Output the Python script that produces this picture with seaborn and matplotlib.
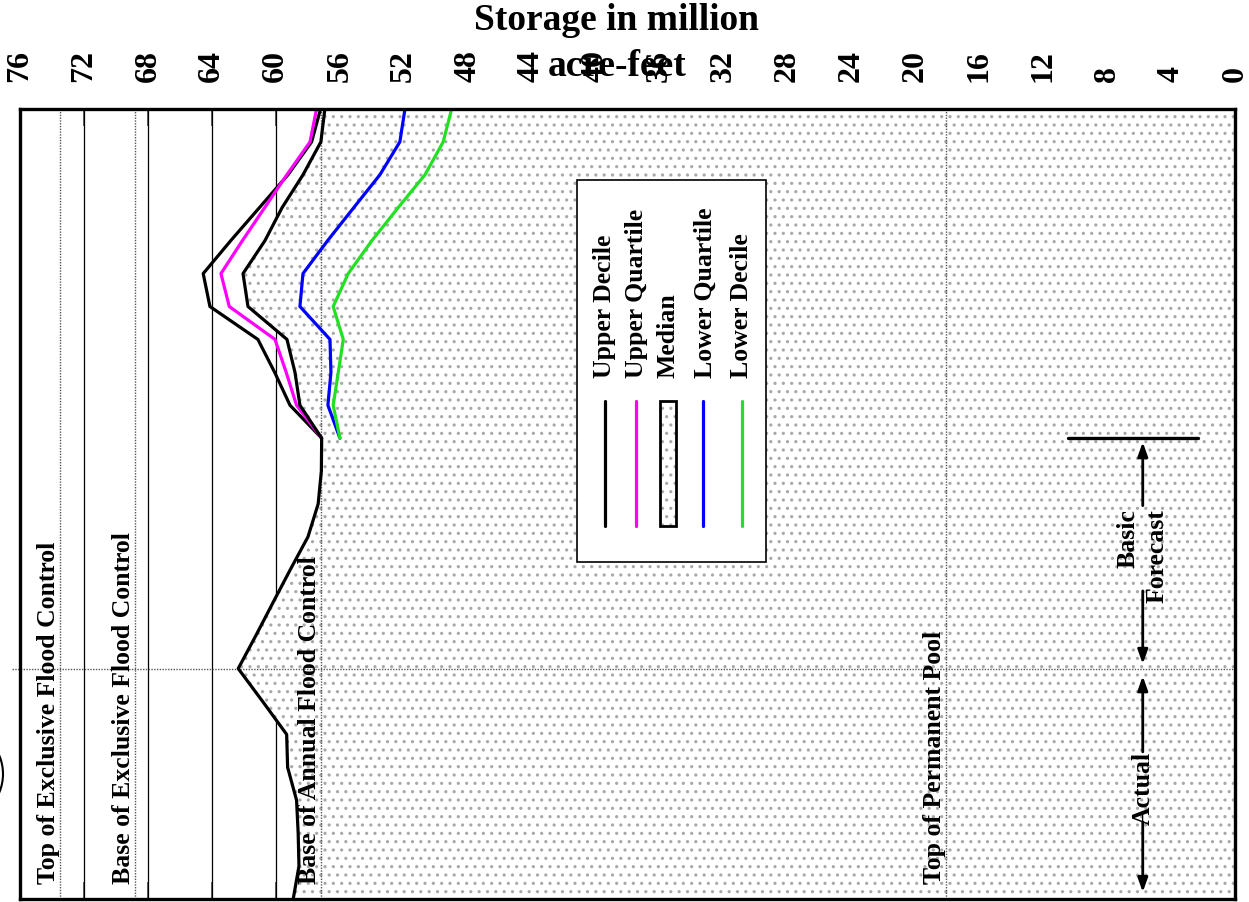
import numpy as np
import pandas as pd
import matplotlib
matplotlib.use("Agg")
import matplotlib.pyplot as plt
import seaborn as sns
from matplotlib.lines import Line2D
from matplotlib.patches import Rectangle, Ellipse

# ---------------- data ----------------
months_all = list(range(0, 25))
median = [58.91, 58.55, 58.60, 58.70, 59.26, 59.32, 60.82, 62.35, 61.25, 60.18,
          59.10, 57.99, 57.35, 57.15, 57.13, 58.49, 58.80, 59.30, 61.74, 62.05,
          60.68, 59.61, 58.30, 57.18, 56.93]
forecast_months = list(range(14, 25))
upper_decile = [57.13, 59.11, 60.07, 61.12, 64.12, 64.54, 62.82, 61.03, 59.24, 57.76, 57.20]
upper_quartile = [57.13, 58.70, 59.35, 60.05, 62.91, 63.43, 62.09, 60.70, 59.31, 57.86, 57.45]
lower_quartile = [55.99, 56.74, 56.55, 56.61, 58.49, 58.30, 56.76, 55.13, 53.49, 52.24, 51.92]
lower_decile = [55.99, 56.41, 56.09, 55.78, 56.41, 55.47, 53.99, 52.35, 50.67, 49.53, 49.00]

series_names = ["Upper Decile", "Upper Quartile", "Median", "Lower Quartile", "Lower Decile"]
series_colors = {"Upper Decile": "black", "Upper Quartile": "#ff00ff",
                 "Median": "black", "Lower Quartile": "#0000ff", "Lower Decile": "#22e022"}

storage_ticks = list(range(0, 77, 4))
level_names = ["Top of Exclusive Flood Control", "Base of Exclusive Flood Control",
               "Base of Annual Flood Control", "Top of Permanent Pool"]
level_values = [73.5, 68.8, 57.2, 18.1]
forecast_start = 7
quantile_start = 14

# ---------------- style ----------------
sns.set_theme(style="white")
plt.rcParams["font.family"] = ["Liberation Serif", "DejaVu Serif"]
plt.rcParams["font.weight"] = "bold"
plt.rcParams["text.color"] = "black"
plt.rcParams["xtick.labelcolor"] = "black"
plt.rcParams["hatch.color"] = "#a8a8a8"
plt.rcParams["hatch.linewidth"] = 1.1

HATCH_COLOR = "#a8a8a8"
W, H = 1249, 903
fig = plt.figure(figsize=(W / 100, H / 100), dpi=100)
fig.patch.set_facecolor("white")
ax = fig.add_axes([20 / W, 3 / H, 1215 / W, 790 / H])
ax.set_facecolor("white")

# grid lines every 4 MAF
for v in storage_ticks:
    ax.axvline(v, color="black", lw=0.9, zorder=1)

# stippled median fill
ax.fill_betweenx(months_all, 0, median, facecolor="white", edgecolor=HATCH_COLOR,
                 hatch="..", linewidth=0, zorder=2)

# level lines (dotted)
for v in level_values:
    ax.axvline(v, color="#555555", lw=1.0, ls=(0, (1, 1)), zorder=3)
ax.plot([76.5, 0], [forecast_start, forecast_start], color="#555555", lw=1.0,
        ls=(0, (1, 1)), zorder=3, clip_on=False)

# quantile lines
rows = []
for name, vals in [("Upper Decile", upper_decile), ("Upper Quartile", upper_quartile),
                   ("Lower Quartile", lower_quartile), ("Lower Decile", lower_decile)]:
    for m, v in zip(forecast_months, vals):
        rows.append({"series": name, "month": m, "storage": v})
df = pd.DataFrame(rows)
sns.lineplot(data=df, x="storage", y="month", hue="series", palette=series_colors,
             orient="y", sort=False, estimator=None, legend=False, lw=2.3, ax=ax, zorder=4)
sns.lineplot(x=median, y=months_all, orient="y", sort=False, estimator=None,
             color="black", lw=2.3, ax=ax, zorder=4)

ax.set_xlim(76, 0)
ax.set_ylim(0, 24)
ax.set_xlabel("")
ax.set_ylabel("")

# ticks
ax.set_xticks(storage_ticks)
ax.set_xticklabels([str(t) for t in storage_ticks], rotation=90, fontsize=23,
                   fontweight="bold", color="black")
ax.xaxis.set_ticks_position("both")
ax.tick_params(axis="x", which="major", direction="in", length=12, width=1.3,
               color="#555555", top=True, bottom=True, labeltop=True,
               labelbottom=False, pad=20, labelcolor="black")
ax.set_yticks(list(range(1, 24)))
ax.set_yticklabels([])
ax.tick_params(axis="y", which="major", direction="in", length=13, width=1.2,
               color="black", left=False, right=True, labelleft=False, labelright=False)
for s in ax.spines.values():
    s.set_color("black")
    s.set_linewidth(2.4)
    s.set_zorder(6)

# level labels
for name, v in zip(level_names, level_values):
    ax.text(v, 0.5, name, rotation=90, ha="right", va="bottom", fontsize=18.5,
            fontweight="bold", color="black", zorder=5)

# period annotations
arrow_x = 5.77
ax.plot([10.46, 2.33], [quantile_start, quantile_start], color="black", lw=2.4, zorder=5)
ap = dict(arrowstyle="-|>,head_length=0.7,head_width=0.25", lw=2.0, color="black",
          shrinkA=0, shrinkB=0)
ax.annotate("", xy=(arrow_x, 13.88), xytext=(arrow_x, 11.95), arrowprops=ap, zorder=5)
ax.annotate("", xy=(arrow_x, 7.14), xytext=(arrow_x, 9.36), arrowprops=ap, zorder=5)
ax.text(arrow_x, 10.45, "Basic\nForecast", rotation=90, ha="center", va="center",
        multialignment="right", linespacing=1.3, fontsize=18.5, fontweight="bold",
        color="black", zorder=5)
ax.annotate("", xy=(arrow_x, 6.77), xytext=(arrow_x, 4.47), arrowprops=ap, zorder=5)
ax.annotate("", xy=(arrow_x, 0.21), xytext=(arrow_x, 2.34), arrowprops=ap, zorder=5)
ax.text(arrow_x, 3.40, "Actual", rotation=90, ha="center", va="center",
        fontsize=18.5, fontweight="bold", color="black", zorder=5)

# ---------------- legend (rotated, placed by figure pixels) ----------------
def fx(x):
    return x / W

def fy(y):
    return 1 - y / H

def px_to_data(xp, yp):
    # pixel position (from top-left) -> data coordinates of the axes
    return ax.transData.inverted().transform((xp, H - yp))

ax.add_patch(Rectangle((fx(577), fy(563)), fx(766) - fx(577), fy(181) - fy(563),
                       transform=fig.transFigure, facecolor="white",
                       edgecolor="black", lw=1.2, zorder=10))
entry_x = [605, 636, 668, 703, 742]
label_x = [604, 636, 668, 705, 742]
for name, xh, xl in zip(series_names, entry_x, label_x):
    if name == "Median":
        x0, y0 = px_to_data(xh - 8, 527)
        x1, y1 = px_to_data(xh + 8, 402)
        ax.fill_betweenx([y0, y1], x0, x1, facecolor="white", edgecolor=HATCH_COLOR,
                         hatch="..", linewidth=0, zorder=11)
        ax.add_patch(Rectangle((fx(xh - 8), fy(527)), fx(16), fy(402) - fy(527),
                               transform=fig.transFigure, facecolor="none",
                               edgecolor="black", lw=2.0, zorder=12))
    else:
        ax.add_line(Line2D([fx(xh), fx(xh)], [fy(402), fy(527)],
                           transform=fig.transFigure, color=series_colors[name],
                           lw=2.3, zorder=11))
    ax.text(fx(xl), fy(378), name, rotation=90, ha="center", va="bottom",
            transform=fig.transFigure, fontsize=18.5, fontweight="bold",
            color="black", zorder=12)

# title
fig.text(fx(617), fy(3), "Storage in million\nacre-feet", ha="center", va="top",
         fontsize=27, fontweight="bold", linespacing=1.4, color="black", zorder=12)

# clipped circle mark at left edge
fig.add_artist(Ellipse((fx(-45), fy(775)), 96 / W, 96 / H, transform=fig.transFigure,
                       facecolor="none", edgecolor="black", lw=1.5, zorder=12))

ax.set_xlim(76, 0)
ax.set_ylim(0, 24)
fig.savefig("out.png", dpi=100, facecolor="white")
